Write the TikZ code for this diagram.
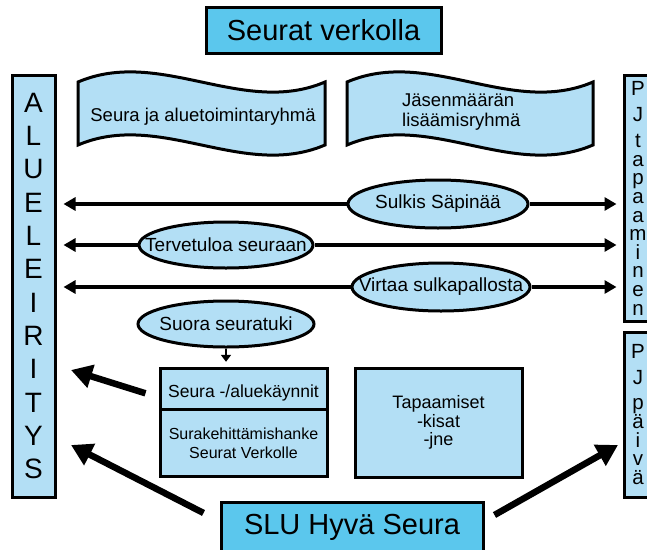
\documentclass[tikz,border=0pt]{standalone}
\usepackage{fontspec}
\setmainfont{Liberation Sans}
\usetikzlibrary{arrows.meta,shapes.geometric}
\definecolor{lblue}{RGB}{179,223,245}
\definecolor{bblue}{RGB}{91,199,237}
\begin{document}
\begin{tikzpicture}[x=1pt,y=-1pt,
  lbox/.style={draw=black,line width=3pt,fill=lblue,inner sep=0pt},
  bbox/.style={draw=black,line width=3pt,fill=bblue,inner sep=0pt,font=\fontsize{29}{33}\selectfont},
  wavebox/.style={draw=black,line width=3pt,fill=lblue},
  ell/.style={ellipse,draw=black,line width=3pt,fill=lblue,inner sep=0pt,font=\fontsize{19}{22}\selectfont},
  harrow/.style={line width=3.5pt,-{Triangle[length=12pt,width=13pt]}},
  bigarrow/.style={line width=6.5pt,-{Triangle[length=21pt,width=23pt]}},
  smallarrow/.style={line width=1.8pt,-{Triangle[length=7pt,width=10pt]}},
]
\useasboundingbox (0,0) rectangle (647,549);

% title
\node[bbox,minimum width=235pt,minimum height=46pt] (title) at (323.5,30) {Seurat verkolla};

% side boxes
\node[lbox,minimum width=43pt,minimum height=422pt,align=center,font=\fontsize{28}{33.3}\selectfont] (left) at (33.5,286) {A\\L\\U\\E\\L\\E\\I\\R\\I\\T\\Y\\S};
\node[lbox,minimum width=28pt,minimum height=246pt,align=center,font=\fontsize{20.5}{18.6}\selectfont] (pjt) at (638,198) {P\\[7.5pt]J\\[8pt]t\\a\\p\\a\\a\\m\\i\\n\\e\\n};
\node[lbox,minimum width=28pt,minimum height=165pt,align=center,font=\fontsize{20.5}{18.6}\selectfont] (pjp) at (638,414.5) {P\\[7.5pt]J\\[6.5pt]p\\ä\\i\\v\\ä};

% waves
\draw[wavebox] (78,82) .. controls (160,47) and (243,117) .. (325,82) -- (325,145) .. controls (243,180) and (160,110) .. (78,145) -- cycle;
\node[font=\fontsize{18.5}{22}\selectfont,inner sep=0pt] (w1) at (203,117) {Seura ja aluetoimintaryhmä};
\draw[wavebox] (347,82) .. controls (429,47) and (511,117) .. (593,82) -- (593,145) .. controls (511,180) and (429,110) .. (347,145) -- cycle;
\node[anchor=west,align=left,inner sep=0pt,font=\fontsize{18.5}{20}\selectfont] (w2) at (402,112) {Jäsenmäärän\\lisäämisryhmä};

% ellipses
\node[ell,minimum width=180pt,minimum height=48pt] (sulkis) at (438,204) {\makebox[0pt]{Sulkis Säpinää}};
\node[ell,minimum width=174pt,minimum height=46pt] (terv) at (226,245) {\makebox[0pt]{Tervetuloa seuraan}};
\node[ell,minimum width=178pt,minimum height=48pt] (virtaa) at (441,287) {\makebox[0pt]{Virtaa sulkapallosta}};
\node[ell,minimum width=176pt,minimum height=46pt] (suora) at (226,324) {\makebox[0pt]{Suora seuratuki}};

% horizontal arrows
\draw[harrow,shorten >=7pt] (sulkis.west) -- (left.east |- sulkis.west);
\draw[harrow,shorten >=6pt] (sulkis.east) -- (pjt.west |- sulkis.east);
\draw[harrow,shorten >=7pt] (terv.west) -- (left.east |- terv.west);
\draw[harrow,shorten >=6pt] (terv.east) -- (pjt.west |- terv.east);
\draw[harrow,shorten >=7pt] (virtaa.west) -- (left.east |- virtaa.west);
\draw[harrow,shorten >=6pt] (virtaa.east) -- (pjt.west |- virtaa.east);

% lower boxes
\node[lbox,minimum width=167pt,minimum height=41pt,font=\fontsize{17.5}{21}\selectfont,text height=20.5pt,text depth=3.7pt] (visits) at (243.5,388.8) {Seura -/aluekäynnit};
\node[lbox,minimum width=167pt,minimum height=67pt,align=center,font=\fontsize{16}{19}\selectfont] (hanke) at (243.5,442.8) {Surakehittämishanke\\Seurat Verkolle};
\node[lbox,minimum width=167pt,minimum height=109pt,align=center,font=\fontsize{18}{18.5}\selectfont] (tapaamiset) at (438.5,422.5) {Tapaamiset\\-kisat\\-jne};

\draw[smallarrow,shorten >=5pt] (suora.south) -- (suora.south |- visits.north);

% bottom box
\node[bbox,minimum width=262pt,minimum height=56pt,text depth=12pt] (slu) at (352,530) {SLU Hyvä Seura};

% thick arrows
\coordinate (a1s) at ([xshift=-13pt,yshift=-4.5pt]visits.west);
\coordinate (a1e) at (71,370);
\coordinate (a2s) at ([xshift=-16pt,yshift=17pt]slu.west);
\coordinate (a2e) at (71,445);
\coordinate (a3s) at ([xshift=10pt,yshift=15pt]slu.east);
\coordinate (a3e) at (618,445);
\draw[bigarrow] (a1s) -- (a1e);
\draw[bigarrow] (a2s) -- (a2e);
\draw[bigarrow] (a3s) -- (a3e);
\end{tikzpicture}
\end{document}
